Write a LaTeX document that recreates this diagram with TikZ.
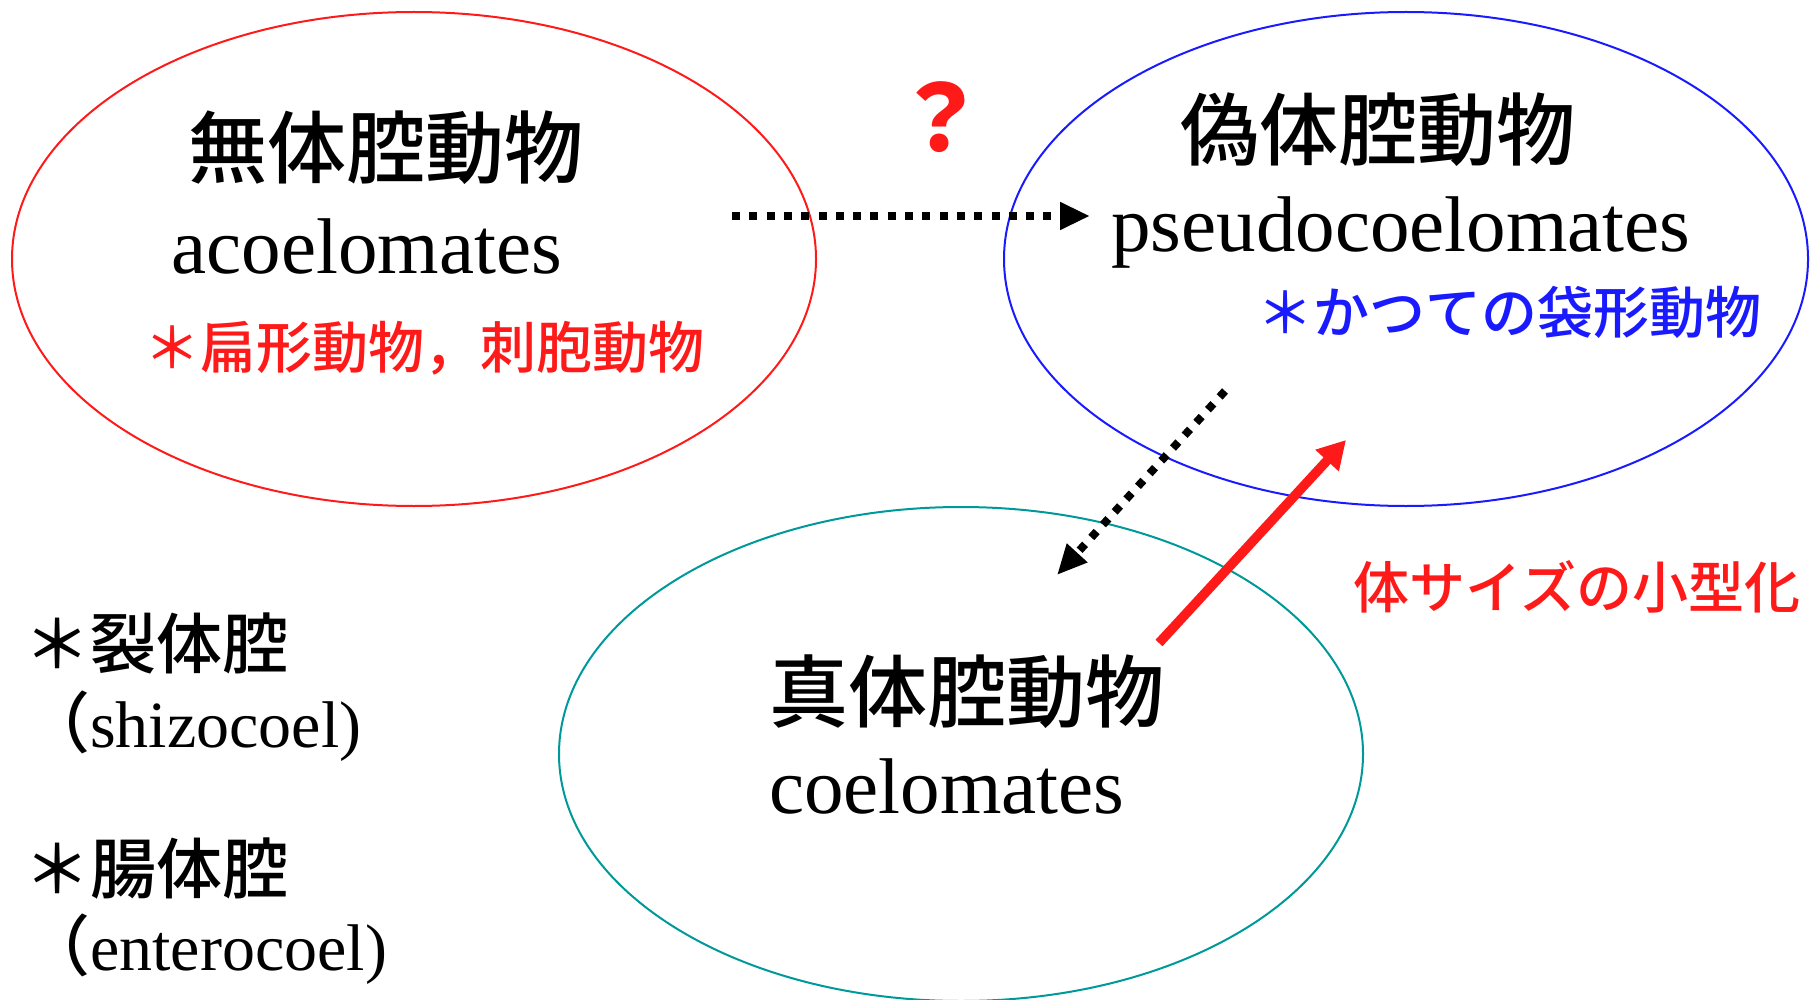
\documentclass[tikz,border=0pt]{standalone}
\usepackage{fontspec}
\setmainfont{Liberation Serif}
\newfontfamily\jp{Noto Sans CJK JP}
\newfontfamily\jpm{Noto Sans CJK JP Medium}
\usetikzlibrary{shapes.geometric,arrows.meta}
\definecolor{hellrot}{RGB}{255,26,26}
\definecolor{blau}{RGB}{26,26,255}
\definecolor{petrol}{RGB}{0,153,153}
\tikzset{
	koerper/.style={ellipse, draw, line width=2pt, inner sep=0pt, minimum width=804pt, minimum height=494pt},
	jname/.style={font=\jpm\fontsize{79}{79}\selectfont, anchor=base, inner sep=0pt},
	lname/.style={font=\fontsize{79}{79}\selectfont, anchor=base, inner sep=0pt},
	anm/.style={font=\jpm\fontsize{56}{56}\selectfont, anchor=base, inner sep=0pt},
	links/.style={font=\jpm\fontsize{66}{66}\selectfont, anchor=base west, inner sep=0pt},
	linkslat/.style={font=\fontsize{66}{66}\selectfont, anchor=base west, inner sep=0pt},
	punkt/.style={line width=8pt, dash pattern=on 8pt off 9.3pt, -{Triangle[length=30pt,width=26pt]}},
}
\begin{document}
\begin{tikzpicture}[x=1pt, y=-1pt]
\useasboundingbox (0,0) rectangle (1814,1000);

	%% Ellipsen
	\node[koerper, draw=hellrot] (acoel) at (414,259) {};
	\node[koerper, draw=blau] (pseudo) at (1406,259) {};
	\node[koerper, draw=petrol] (coel) at (961,754) {};
	%%%%%%%%%%%%%%%%

	%% Namen
	\node[jname] (acoelj) at (386,178) {無体腔動物};
	\node[lname] (acoell) at (367,273) {acoelomates};
	\node[anm, hellrot] (acoela) at (424,368) {＊扁形動物，刺胞動物};

	\node[jname] (pseudoj) at (1378,160) {偽体腔動物};
	\node[lname] (pseudol) at (1401,252) {pseudocoelomates};
	\node[anm, blau] (pseudoa) at (1509,333) {＊かつての袋形動物};

	\node[jname] (coelj) at (967,721) {真体腔動物};
	\node[lname, anchor=base west] (coell) at (769,813) {coelomates};
	%%%%%%%%%%%%%%%%

	%% Pfeile
	\coordinate (h1) at (732,216);
	\coordinate (h2) at (1090,216);
	\draw[punkt] (h1) -- (h2);
	\node[font=\jp\bfseries\fontsize{92}{92}\selectfont, hellrot, anchor=base, inner sep=0pt] (frage) at (940,152) {？};

	\coordinate (d1) at (1225,391);
	\coordinate (d2) at (1057,575);
	\draw[punkt] (d1) -- (d2);

	\coordinate (r1) at (1159,643);
	\coordinate (r2) at (1346,440);
	\draw[hellrot, line width=9.5pt, -{Triangle[length=28pt,width=30pt]}] (r1) -- (r2);
	\node[anm, hellrot] (klein) at (1577,608) {体サイズの小型化};
	%%%%%%%%%%%%%%%%

	%% Leibeshoehlen
	\node[links] (schizo) at (24,668) {＊裂体腔};
	\node[linkslat] (schizol) at (24,747) {{\jpm （}shizocoel)};
	\node[links] (entero) at (24,893) {＊腸体腔};
	\node[linkslat] (enterol) at (24,970) {{\jpm （}enterocoel)};

\end{tikzpicture}
\end{document}
